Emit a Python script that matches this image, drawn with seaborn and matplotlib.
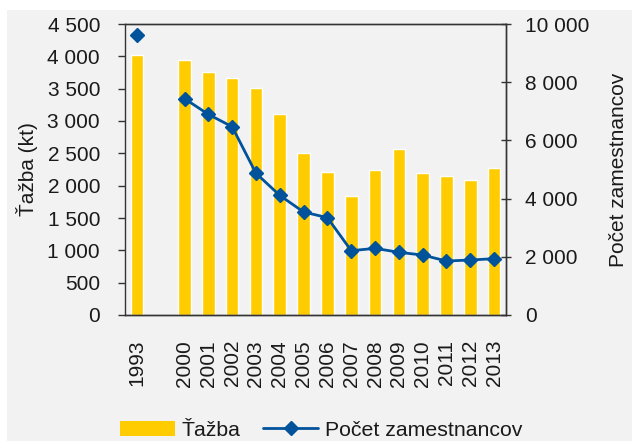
import numpy as np
import pandas as pd
import seaborn as sns
import matplotlib.pyplot as plt
from matplotlib.patches import Rectangle
from matplotlib.lines import Line2D

# data ("" is the empty slot between 1993 and 2000)
years = ['1993', '', '2000', '2001', '2002', '2003', '2004', '2005', '2006',
         '2007', '2008', '2009', '2010', '2011', '2012', '2013']
tazba = [4020, np.nan, 3945, 3760, 3665, 3510, 3110, 2505, 2210,
         1840, 2245, 2565, 2195, 2150, 2090, 2275]
zamestnanci = [9630, np.nan, 7435, 6895, 6470, 4870, 4110, 3540, 3345,
               2210, 2290, 2155, 2060, 1855, 1890, 1935]

bar_color = '#FFCC00'
line_color = '#00529B'
bg = '#F2F2F2'
txt = '#1a1a1a'

sns.set_theme(style='white')
plt.rcParams['font.family'] = ['Liberation Sans', 'DejaVu Sans']
plt.rcParams['font.size'] = 15

df = pd.DataFrame({'rok': years, 'tazba': tazba, 'zam': zamestnanci})

fig = plt.figure(figsize=(6.32, 4.41), dpi=100, facecolor='white')
fig.patches.append(Rectangle((7 / 632, 0), 1, 1 - 10 / 441, transform=fig.transFigure,
                             facecolor=bg, edgecolor='none', zorder=-10))
ax = fig.add_axes([125 / 632, 1 - 315 / 441, (506 - 125) / 632, (315 - 24) / 441])
ax.set_facecolor(bg)

sns.barplot(data=df, x='rok', y='tazba', order=years, color=bar_color,
            saturation=1, width=0.53, ax=ax)

ax2 = ax.twinx()
pos = np.arange(len(years))
ax2.plot(pos, df['zam'], color=line_color, lw=2, marker='D', ms=7,
         markeredgecolor=line_color, zorder=5)

ax.set_xlim(-0.5, len(years) - 0.5)
ax.set_ylim(0, 4500)
ax2.set_ylim(0, 10000)
ax.set_yticks(np.arange(0, 4501, 500))
ax2.set_yticks(np.arange(0, 10001, 2000))

def fmt(v):
    return f'{int(v):,}'.replace(',', ' ')

ax.set_yticklabels([fmt(v) for v in ax.get_yticks()], color=txt, fontsize=15)
ax2.set_yticklabels([fmt(v) for v in ax2.get_yticks()], color=txt, fontsize=15)
ax.set_ylabel('Ťažba (kt)', color=txt, fontsize=15, labelpad=7)
ax2.set_ylabel('Počet zamestnancov', color=txt, fontsize=15, labelpad=14)
ax.set_xlabel('')

# x ticks: labels at centres, tick marks at slot boundaries
ax.set_xticks(pos)
ax.set_xticklabels(years, rotation=90, color=txt, fontsize=15)
ax.tick_params(axis='x', which='major', length=0, pad=18)
ax.set_xticks(np.arange(-0.5, len(years)), minor=True)
ax.tick_params(axis='x', which='minor', length=10, direction='inout', color='#333333', width=1)
ax.tick_params(axis='y', length=5, direction='out', color='#333333', width=1, left=True, pad=13)
ax2.tick_params(axis='y', length=7, direction='inout', color='#333333', width=1, right=True, pad=10)

for a in (ax, ax2):
    for s in a.spines.values():
        s.set_color('#333333')
        s.set_linewidth(1)
ax.spines['top'].set_color('#555555')
ax2.spines['left'].set_visible(False)

handles = [Rectangle((0, 0), 1, 1, facecolor=bar_color, edgecolor='none'),
           Line2D([], [], color=line_color, lw=2, marker='D', ms=7)]
fig.legend(handles, ['Ťažba', 'Počet zamestnancov'], loc='lower center',
           bbox_to_anchor=(0.508, -0.04), ncol=2, frameon=False, fontsize=15.3,
           handlelength=2.6, handletextpad=0.3, columnspacing=1.05, labelcolor=txt)

fig.savefig('out.png', dpi=100, facecolor=fig.get_facecolor())
